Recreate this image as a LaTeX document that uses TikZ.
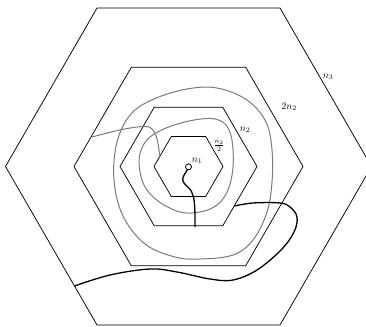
\documentclass[tikz,border=0pt]{standalone}
\begin{document}
\begin{tikzpicture}[x=1pt,y=-1pt,
  hexline/.style={line width=0.75pt,black},
  grayline/.style={line width=1pt,black!52},
  pathline/.style={line width=1.3pt,black},
  lbl/.style={inner sep=0.5pt}]
\useasboundingbox (0,0) rectangle (366,326);
\clip (0,0) rectangle (366,326);
\begin{scope}[shift={(188.5,166.5)}]
  \foreach \r in {34.5,68.5,114.5,183}{
    \draw[hexline] (0:\r) -- (60:\r) -- (120:\r) -- (180:\r) -- (240:\r) -- (300:\r) -- cycle;
  }
\end{scope}
% gray circuits
\draw[grayline] plot[smooth cycle, tension=0.6] coordinates {
  (187,89) (217,88) (247,100) (266,122) (272,150) (272,182) (267,212) (253,240)
  (233,255) (200,259) (175,257) (145,244) (123,216) (114,180) (117,142) (131,114) (154,99)};
\draw[grayline] plot[smooth cycle, tension=0.6] coordinates {
  (185,122) (201,119) (215,119) (226,125) (232,140) (233,167) (228,190) (217,205)
  (200,212) (180,212) (158,201) (144,185) (139,163) (142,148) (150,137) (166,128)};
\draw[grayline] plot[smooth, tension=0.6] coordinates {
  (92,137) (122,129.5) (145,126.5) (153,130) (157,139) (159,150) (160,157)};
% black paths
\node[circle,draw,line width=0.8pt,fill=white,minimum size=6pt,inner sep=0pt] (o) at (188.5,166.8) {};
\draw[pathline] plot[smooth, tension=0.6] coordinates {
  (187.3,170) (183,177.5) (184,183) (191.5,191.5) (194.5,204) (195,227)};
\draw[pathline] plot[smooth, tension=0.6] coordinates {
  (234.5,206) (253,203) (280,203) (290,207) (297,217) (294,232) (281,250) (257,270)
  (233,280) (210,279) (177,272) (150,269) (110,275) (74.5,286)};
% labels
\node[lbl] (l3) at (328,77) {$n_3$};
\node[lbl] (l22) at (289,107) {$2n_2$};
\node[lbl] (l2) at (245,130) {$n_2$};
\node[lbl] (lh) at (219,146) {$\frac{n_2}{2}$};
\node[lbl] (l1) at (197,161) {$n_1$};
\end{tikzpicture}
\end{document}
